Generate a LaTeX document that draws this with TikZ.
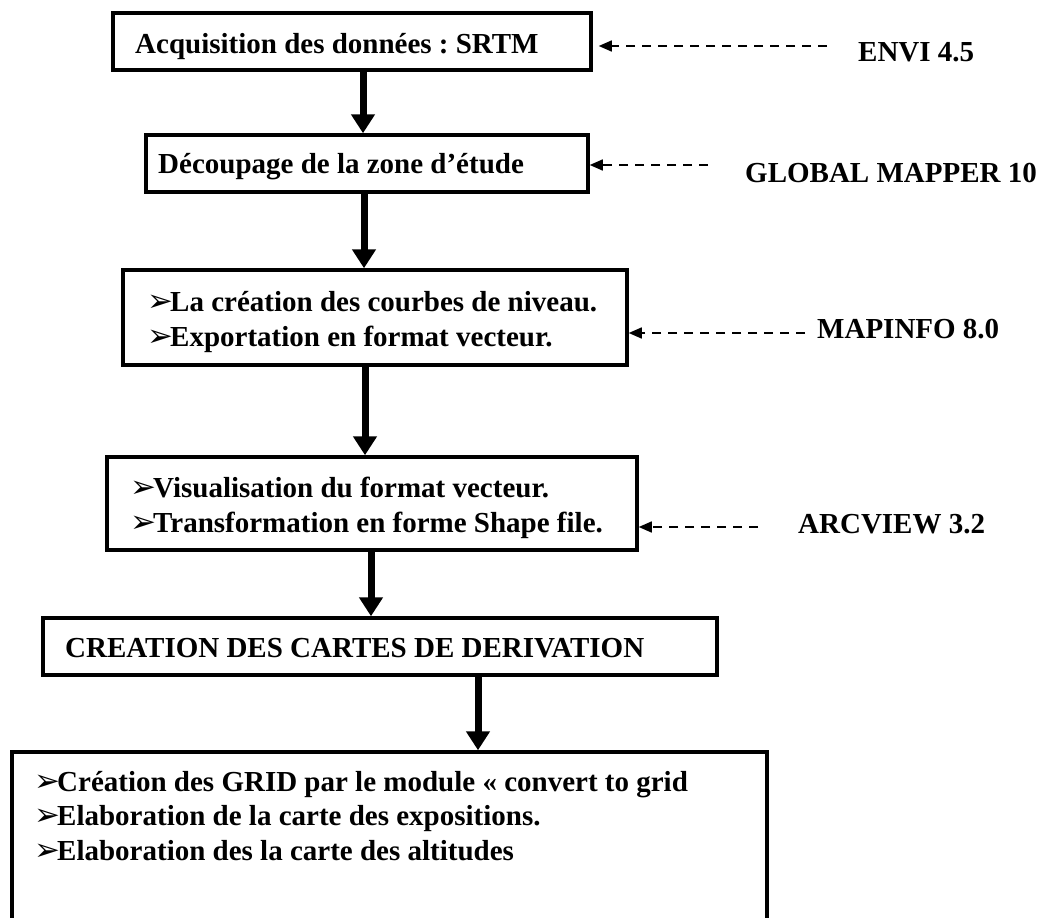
\documentclass[tikz,border=0pt]{standalone}
\usepackage{fontspec}
\setmainfont{Liberation Serif}
\newfontfamily\dejavu{DejaVu Sans}
\usetikzlibrary{arrows.meta}
\frenchspacing
\newcommand{\blt}{\makebox[23pt][l]{\raisebox{0pt}{\dejavu\fontsize{31}{31}\selectfont ➢}}}
\begin{document}
\begin{tikzpicture}[x=1pt,y=-1pt,
  box/.style={draw,line width=3.5pt,rectangle,inner sep=0pt},
  txt/.style={anchor=base west,inner sep=0pt,font=\fontsize{29}{35}\bfseries\selectfont},
  flow/.style={line width=7pt,-{Triangle[width=23pt,length=19pt]}},
  dsh/.style={line width=1.5pt,dash pattern=on 9pt off 7pt,-{Triangle[width=11pt,length=13pt]}}
]
\useasboundingbox (0,0) rectangle (1047,918);
\clip (0,0) rectangle (1047,918);

% boxes
\node[box,minimum width=478pt,minimum height=57pt] (b1) at (352,41.5) {};
\node[box,minimum width=442pt,minimum height=57pt] (b2) at (367,163.5) {};
\node[box,minimum width=504pt,minimum height=95pt] (b3) at (375,317.5) {};
\node[box,minimum width=530pt,minimum height=93pt] (b4) at (372,503.5) {};
\node[box,minimum width=674pt,minimum height=57pt] (b5) at (380,646.5) {};
\node[box,minimum width=755pt,minimum height=208pt] (b6) at (389.5,856) {};

% box texts
\node[txt] (t1) at (135,53) {Acquisition des données : SRTM};
\node[txt] (t2) at (158,173) {Découpage de la zone d’étude};
\node[txt] (t3a) at (147,311) {\blt La création des courbes de niveau.};
\node[txt] (t3b) at (147,346) {\blt Exportation en format vecteur.};
\node[txt] (t4a) at (130,497) {\blt Visualisation du format vecteur.};
\node[txt] (t4b) at (130,532) {\blt Transformation en forme Shape file.};
\node[txt] (t5) at (65,657) {CREATION DES CARTES DE DERIVATION};
\node[txt] (t6a) at (34,791) {\blt Création des GRID par le module « convert to grid};
\node[txt] (t6b) at (34,825) {\blt Elaboration de la carte des expositions.};
\node[txt] (t6c) at (34,860) {\blt Elaboration des la carte des altitudes};

% software labels
\node[txt] (s1) at (858,61) {ENVI 4.5};
\node[txt] (s2) at (745,182) {GLOBAL MAPPER 10};
\node[txt] (s3) at (817,338) {MAPINFO 8.0};
\node[txt] (s4) at (798,533) {ARCVIEW 3.2};

% flow arrows
\coordinate (x1) at (363,0);
\coordinate (x2) at (364,0);
\coordinate (x3) at (365,0);
\coordinate (x4) at (371,0);
\coordinate (x5) at (478,0);
\draw[flow] (b1.south -| x1) -- (b2.north -| x1);
\draw[flow] (b2.south -| x2) -- (b3.north -| x2);
\draw[flow] (b3.south -| x3) -- (b4.north -| x3);
\draw[flow] (b4.south -| x4) -- (b5.north -| x4);
\draw[flow] (b5.south -| x5) -- (b6.north -| x5);

% dashed arrows
\coordinate (d1) at (827,46);
\coordinate (d2) at (708,165);
\coordinate (d3) at (805,333);
\coordinate (d4) at (758,527);
\draw[dsh,shorten >=6pt] (d1) -- (b1.east |- d1);
\draw[dsh] (d2) -- (b2.east |- d2);
\draw[dsh] (d3) -- (b3.east |- d3);
\draw[dsh] (d4) -- (b4.east |- d4);
\end{tikzpicture}
\end{document}
